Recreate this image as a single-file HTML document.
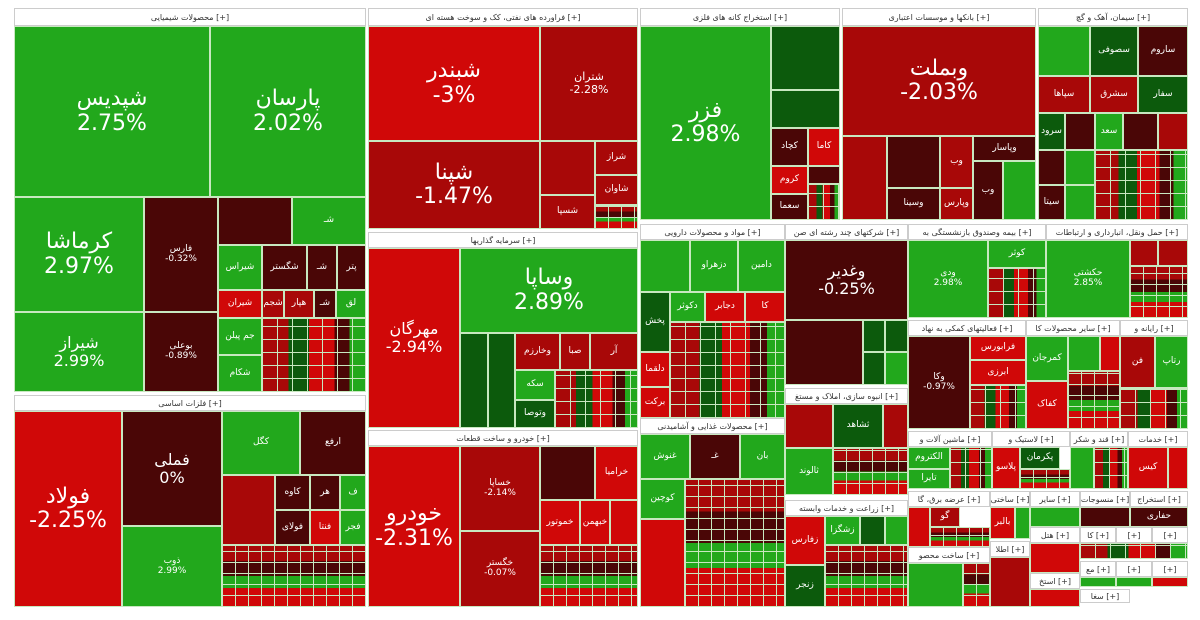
<!DOCTYPE html>
<html><head><meta charset="utf-8">
<style>
body{margin:0;width:1200px;height:620px;background:#fff;position:relative;overflow:hidden;font-family:"DejaVu Sans","Liberation Sans",sans-serif}
.t{position:absolute;box-sizing:border-box;border:1px solid #c8e8c0;display:flex;flex-direction:column;align-items:center;justify-content:center;color:#fff;line-height:1.1;overflow:hidden;text-align:center;font-size:9px}
.h{position:absolute;box-sizing:border-box;background:#fff;border:1px solid #ccc;font-size:8px;color:#333;display:flex;align-items:center;justify-content:center;white-space:nowrap;overflow:hidden}
.g{background:#22a81c}.dg{background:#0c5a0c}.r{background:#d00808}.mr{background:#a80808}.dr{background:#4a0606}
.b{font-size:22px}.m{font-size:16px}.s{font-size:11px}
.mx{position:absolute;box-sizing:border-box;border:1px solid #c8e8c0;background:
repeating-linear-gradient(90deg,transparent 0 14px,#c8e8c0 14px 15px),
repeating-linear-gradient(0deg,transparent 0 12px,#c8e8c0 12px 13px),
linear-gradient(90deg,#a80808 0 25%,#0c5a0c 25% 45%,#d00808 45% 70%,#4a0606 70% 85%,#22a81c 85%)}
.mx2{position:absolute;box-sizing:border-box;border:1px solid #c8e8c0;background:
repeating-linear-gradient(90deg,transparent 0 12px,#c8e8c0 12px 13px),
repeating-linear-gradient(0deg,transparent 0 10px,#c8e8c0 10px 11px),
linear-gradient(0deg,#d00808 0 30%,#22a81c 30% 50%,#4a0606 50% 75%,#a80808 75%)}
</style></head><body>
<!-- chemicals -->
<div class="h" style="left:14px;top:8px;width:352px;height:18px">محصولات شیمیایی [+]</div>
<div class="t g" style="left:14px;top:26px;width:196px;height:171px"><span class="b">شپدیس</span><span class="b">2.75%</span></div>
<div class="t g" style="left:210px;top:26px;width:156px;height:171px"><span class="b">پارسان</span><span class="b">2.02%</span></div>
<div class="t g" style="left:14px;top:197px;width:130px;height:115px"><span class="b">کرماشا</span><span class="b">2.97%</span></div>
<div class="t g" style="left:14px;top:312px;width:130px;height:80px"><span class="m">شیراز</span><span class="m">2.99%</span></div>
<div class="t dr" style="left:144px;top:197px;width:74px;height:115px"><span>فارس</span><span>-0.32%</span></div>
<div class="t dr" style="left:144px;top:312px;width:74px;height:80px"><span>بوعلی</span><span>-0.89%</span></div>
<div class="t dr" style="left:218px;top:197px;width:74px;height:48px"></div>
<div class="t g" style="left:292px;top:197px;width:74px;height:48px">شـ</div>
<div class="t g" style="left:218px;top:245px;width:44px;height:45px">شیراس</div>
<div class="t dr" style="left:262px;top:245px;width:45px;height:45px">شگستر</div>
<div class="t dr" style="left:307px;top:245px;width:30px;height:45px">شـ</div>
<div class="t dr" style="left:337px;top:245px;width:29px;height:45px">پتر</div>
<div class="t r" style="left:218px;top:290px;width:44px;height:28px">شیران</div>
<div class="t mr" style="left:262px;top:290px;width:22px;height:28px">شجم</div>
<div class="t mr" style="left:284px;top:290px;width:30px;height:28px">هپار</div>
<div class="t dr" style="left:314px;top:290px;width:22px;height:28px">شـ</div>
<div class="t g" style="left:336px;top:290px;width:30px;height:28px">لق</div>
<div class="t g" style="left:218px;top:318px;width:44px;height:37px">جم پیلن</div>
<div class="t g" style="left:218px;top:355px;width:44px;height:37px">شکام</div>
<div class="mx" style="left:262px;top:318px;width:104px;height:74px"></div>
<!-- metals -->
<div class="h" style="left:14px;top:395px;width:352px;height:16px">فلزات اساسی [+]</div>
<div class="t r" style="left:14px;top:411px;width:108px;height:196px"><span class="b">فولاد</span><span class="b">-2.25%</span></div>
<div class="t dr" style="left:122px;top:411px;width:100px;height:115px"><span class="m">فملی</span><span class="m">0%</span></div>
<div class="t g" style="left:122px;top:526px;width:100px;height:81px"><span>ذوب</span><span>2.99%</span></div>
<div class="t g" style="left:222px;top:411px;width:78px;height:64px">کگل</div>
<div class="t dr" style="left:300px;top:411px;width:66px;height:64px">ارفع</div>
<div class="t mr" style="left:222px;top:475px;width:53px;height:70px"></div>
<div class="t dr" style="left:275px;top:475px;width:35px;height:35px">کاوه</div>
<div class="t dr" style="left:310px;top:475px;width:30px;height:35px">هر</div>
<div class="t g" style="left:340px;top:475px;width:26px;height:35px">ف</div>
<div class="t dr" style="left:275px;top:510px;width:35px;height:35px">فولای</div>
<div class="t r" style="left:310px;top:510px;width:30px;height:35px">فنتا</div>
<div class="t g" style="left:340px;top:510px;width:26px;height:35px">فجر</div>
<div class="mx2" style="left:222px;top:545px;width:144px;height:62px"></div>
<!-- oil -->
<div class="h" style="left:368px;top:8px;width:270px;height:18px">فراورده های نفتی، کک و سوخت هسته ای [+]</div>
<div class="t r" style="left:368px;top:26px;width:172px;height:115px"><span class="b">شبندر</span><span class="b">-3%</span></div>
<div class="t mr" style="left:368px;top:141px;width:172px;height:88px"><span class="b">شپنا</span><span class="b">-1.47%</span></div>
<div class="t mr" style="left:540px;top:26px;width:98px;height:115px"><span class="s">شتران</span><span class="s">-2.28%</span></div>
<div class="t mr" style="left:540px;top:141px;width:55px;height:54px"></div>
<div class="t mr" style="left:595px;top:141px;width:43px;height:34px">شراز</div>
<div class="t mr" style="left:595px;top:175px;width:43px;height:30px">شاوان</div>
<div class="t mr" style="left:540px;top:195px;width:55px;height:34px">شسپا</div>
<div class="mx2" style="left:595px;top:205px;width:43px;height:24px"></div>
<!-- investment -->
<div class="h" style="left:368px;top:232px;width:270px;height:16px">سرمایه گذاریها [+]</div>
<div class="t r" style="left:368px;top:248px;width:92px;height:180px"><span class="m">مهرگان</span><span class="m">-2.94%</span></div>
<div class="t g" style="left:460px;top:248px;width:178px;height:85px"><span class="b">وساپا</span><span class="b">2.89%</span></div>
<div class="t dg" style="left:460px;top:333px;width:28px;height:95px"></div>
<div class="t dg" style="left:488px;top:333px;width:27px;height:95px"></div>
<div class="t mr" style="left:515px;top:333px;width:45px;height:37px">وخارزم</div>
<div class="t mr" style="left:560px;top:333px;width:30px;height:37px">صبا</div>
<div class="t mr" style="left:590px;top:333px;width:48px;height:37px">آر</div>
<div class="t g" style="left:515px;top:370px;width:40px;height:30px">سکه</div>
<div class="t dg" style="left:515px;top:400px;width:40px;height:28px">وتوصا</div>
<div class="mx" style="left:555px;top:370px;width:83px;height:58px"></div>
<!-- auto -->
<div class="h" style="left:368px;top:430px;width:270px;height:16px">خودرو و ساخت قطعات [+]</div>
<div class="t r" style="left:368px;top:446px;width:92px;height:161px"><span class="b">خودرو</span><span class="b">-2.31%</span></div>
<div class="t mr" style="left:460px;top:446px;width:80px;height:85px"><span>خساپا</span><span>-2.14%</span></div>
<div class="t mr" style="left:460px;top:531px;width:80px;height:76px"><span>خگستر</span><span>-0.07%</span></div>
<div class="t dr" style="left:540px;top:446px;width:55px;height:54px"></div>
<div class="t r" style="left:595px;top:446px;width:43px;height:54px">خراميا</div>
<div class="t r" style="left:540px;top:500px;width:40px;height:45px">خموتور</div>
<div class="t r" style="left:580px;top:500px;width:30px;height:45px">خبهمن</div>
<div class="t r" style="left:610px;top:500px;width:28px;height:45px"></div>
<div class="mx2" style="left:540px;top:545px;width:98px;height:62px"></div>
<!-- mining -->
<div class="h" style="left:640px;top:8px;width:200px;height:18px">استخراج کانه های فلزی [+]</div>
<div class="t g" style="left:640px;top:26px;width:131px;height:194px"><span class="b">فزر</span><span class="b">2.98%</span></div>
<div class="t dg" style="left:771px;top:26px;width:69px;height:64px"></div>
<div class="t dg" style="left:771px;top:90px;width:69px;height:38px" ></div>
<div class="t dr" style="left:771px;top:128px;width:37px;height:38px">کچاد</div>
<div class="t r" style="left:808px;top:128px;width:32px;height:38px">کاما</div>
<div class="t r" style="left:771px;top:166px;width:37px;height:28px">کروم</div>
<div class="t dr" style="left:808px;top:166px;width:32px;height:18px"></div>
<div class="t dr" style="left:771px;top:194px;width:37px;height:26px">سعما</div>
<div class="mx" style="left:808px;top:184px;width:32px;height:36px"></div>
<!-- pharma -->
<div class="h" style="left:640px;top:224px;width:145px;height:16px">مواد و محصولات دارویی [+]</div>
<div class="t g" style="left:640px;top:240px;width:50px;height:52px"></div>
<div class="t g" style="left:690px;top:240px;width:48px;height:52px">دزهراو</div>
<div class="t g" style="left:738px;top:240px;width:47px;height:52px">دامین</div>
<div class="t dg" style="left:640px;top:292px;width:30px;height:60px">پخش</div>
<div class="t g" style="left:670px;top:292px;width:35px;height:30px">دکوثر</div>
<div class="t r" style="left:705px;top:292px;width:40px;height:30px">دجابر</div>
<div class="t r" style="left:745px;top:292px;width:40px;height:30px">کا</div>
<div class="t r" style="left:640px;top:352px;width:30px;height:35px">دلقما</div>
<div class="t r" style="left:640px;top:387px;width:30px;height:31px">برکت</div>
<div class="mx" style="left:670px;top:322px;width:115px;height:96px"></div>
<!-- food -->
<div class="h" style="left:640px;top:418px;width:145px;height:16px">محصولات غذایی و آشامیدنی [+]</div>
<div class="t g" style="left:640px;top:434px;width:50px;height:45px">غنوش</div>
<div class="t dr" style="left:690px;top:434px;width:50px;height:45px">غـ</div>
<div class="t g" style="left:740px;top:434px;width:45px;height:45px">بان</div>
<div class="t g" style="left:640px;top:479px;width:45px;height:40px">کوچین</div>
<div class="t r" style="left:640px;top:519px;width:45px;height:88px"></div>
<div class="mx2" style="left:685px;top:479px;width:100px;height:128px"></div>
<!-- multi -->
<div class="h" style="left:785px;top:224px;width:123px;height:16px">شرکتهای چند رشته ای صن [+]</div>
<div class="t dr" style="left:785px;top:240px;width:123px;height:80px"><span class="m">وغدیر</span><span class="m">-0.25%</span></div>
<div class="t dr" style="left:785px;top:320px;width:78px;height:65px"></div>
<div class="t dg" style="left:863px;top:320px;width:22px;height:32px"></div>
<div class="t dg" style="left:885px;top:320px;width:23px;height:32px"></div>
<div class="t dg" style="left:863px;top:352px;width:22px;height:33px"></div>
<div class="t g" style="left:885px;top:352px;width:23px;height:33px"></div>
<div class="h" style="left:785px;top:388px;width:123px;height:16px">انبوه سازی، املاک و مستغ [+]</div>
<div class="t mr" style="left:785px;top:404px;width:48px;height:44px"></div>
<div class="t dg" style="left:833px;top:404px;width:50px;height:44px">ثشاهد</div>
<div class="t mr" style="left:883px;top:404px;width:25px;height:44px"></div>
<div class="t g" style="left:785px;top:448px;width:48px;height:47px">ثالوند</div>
<div class="mx2" style="left:833px;top:448px;width:75px;height:47px"></div>
<div class="h" style="left:785px;top:500px;width:123px;height:16px">زراعت و خدمات وابسته [+]</div>
<div class="t r" style="left:785px;top:516px;width:40px;height:49px">زفارس</div>
<div class="t g" style="left:825px;top:516px;width:35px;height:29px">زشگزا</div>
<div class="t dg" style="left:860px;top:516px;width:25px;height:29px"></div>
<div class="t g" style="left:885px;top:516px;width:23px;height:29px"></div>
<div class="t dg" style="left:785px;top:565px;width:40px;height:42px">زنجر</div>
<div class="mx2" style="left:825px;top:545px;width:83px;height:62px"></div>
<!-- banks -->
<div class="h" style="left:842px;top:8px;width:194px;height:18px">بانکها و موسسات اعتباری [+]</div>
<div class="t mr" style="left:842px;top:26px;width:194px;height:110px"><span class="b">وبملت</span><span class="b">-2.03%</span></div>
<div class="t mr" style="left:842px;top:136px;width:45px;height:84px"></div>
<div class="t dr" style="left:887px;top:136px;width:53px;height:52px"></div>
<div class="t mr" style="left:940px;top:136px;width:33px;height:52px">وب</div>
<div class="t dr" style="left:973px;top:136px;width:63px;height:25px">وپاسار</div>
<div class="t dr" style="left:887px;top:188px;width:53px;height:32px">وسینا</div>
<div class="t mr" style="left:940px;top:188px;width:33px;height:32px">وپارس</div>
<div class="t dr" style="left:973px;top:161px;width:30px;height:59px">وب</div>
<div class="t g" style="left:1003px;top:161px;width:33px;height:59px"></div>
<!-- cement -->
<div class="h" style="left:1038px;top:8px;width:150px;height:18px">سیمان، آهک و گچ [+]</div>
<div class="t g" style="left:1038px;top:26px;width:52px;height:50px"></div>
<div class="t dg" style="left:1090px;top:26px;width:48px;height:50px">سصوفی</div>
<div class="t dr" style="left:1138px;top:26px;width:50px;height:50px">ساروم</div>
<div class="t mr" style="left:1038px;top:76px;width:52px;height:37px">سپاها</div>
<div class="t mr" style="left:1090px;top:76px;width:48px;height:37px">سشرق</div>
<div class="t dg" style="left:1138px;top:76px;width:50px;height:37px">سفار</div>
<div class="t dg" style="left:1038px;top:113px;width:27px;height:37px">سرود</div>
<div class="t dr" style="left:1065px;top:113px;width:30px;height:37px"></div>
<div class="t g" style="left:1095px;top:113px;width:28px;height:37px">سعد</div>
<div class="t dr" style="left:1123px;top:113px;width:35px;height:37px"></div>
<div class="t mr" style="left:1158px;top:113px;width:30px;height:37px"></div>
<div class="t dr" style="left:1038px;top:150px;width:27px;height:35px"></div>
<div class="t g" style="left:1065px;top:150px;width:30px;height:35px"></div>
<div class="t dr" style="left:1038px;top:185px;width:27px;height:35px">سیتا</div>
<div class="t g" style="left:1065px;top:185px;width:30px;height:35px"></div>
<div class="mx" style="left:1095px;top:150px;width:93px;height:70px"></div>
<!-- insurance -->
<div class="h" style="left:908px;top:224px;width:138px;height:16px">بیمه وصندوق بازنشستگی به [+]</div>
<div class="t g" style="left:908px;top:240px;width:80px;height:78px"><span>ودی</span><span>2.98%</span></div>
<div class="t g" style="left:988px;top:240px;width:58px;height:28px">کوثر</div>
<div class="mx" style="left:988px;top:268px;width:58px;height:50px"></div>
<div class="h" style="left:1046px;top:224px;width:142px;height:16px">حمل ونقل، انبارداری و ارتباطات [+]</div>
<div class="t g" style="left:1046px;top:240px;width:84px;height:78px"><span>حکشتی</span><span>2.85%</span></div>
<div class="t mr" style="left:1130px;top:240px;width:28px;height:26px"></div>
<div class="t mr" style="left:1158px;top:240px;width:30px;height:26px"></div>
<div class="mx2" style="left:1130px;top:266px;width:58px;height:52px"></div>
<!-- row3 -->
<div class="h" style="left:908px;top:320px;width:118px;height:16px">فعالیتهای کمکی به نهاد [+]</div>
<div class="t dr" style="left:908px;top:336px;width:62px;height:93px"><span>وکا</span><span>-0.97%</span></div>
<div class="t r" style="left:970px;top:336px;width:56px;height:24px">فرابورس</div>
<div class="t r" style="left:970px;top:360px;width:56px;height:25px">ابرزی</div>
<div class="mx" style="left:970px;top:385px;width:56px;height:44px"></div>
<div class="h" style="left:1026px;top:320px;width:94px;height:16px">سایر محصولات کا [+]</div>
<div class="t g" style="left:1026px;top:336px;width:42px;height:45px">کمرجان</div>
<div class="t g" style="left:1068px;top:336px;width:32px;height:35px"></div>
<div class="t r" style="left:1100px;top:336px;width:20px;height:35px"></div>
<div class="t r" style="left:1026px;top:381px;width:42px;height:48px">کفاک</div>
<div class="mx2" style="left:1068px;top:371px;width:52px;height:58px"></div>
<div class="h" style="left:1120px;top:320px;width:68px;height:16px">رایانه و [+]</div>
<div class="t mr" style="left:1120px;top:336px;width:35px;height:52px">فن</div>
<div class="t g" style="left:1155px;top:336px;width:33px;height:52px">رتاپ</div>
<div class="mx" style="left:1120px;top:388px;width:68px;height:41px"></div>
<!-- row4 -->
<div class="h" style="left:908px;top:431px;width:84px;height:16px">ماشین آلات و [+]</div>
<div class="t g" style="left:908px;top:447px;width:42px;height:22px">الکتروم</div>
<div class="t g" style="left:908px;top:469px;width:42px;height:20px">تایرا</div>
<div class="mx" style="left:950px;top:447px;width:42px;height:42px"></div>
<div class="h" style="left:992px;top:431px;width:78px;height:16px">لاستیک و [+]</div>
<div class="t r" style="left:992px;top:447px;width:28px;height:42px">پلاسو</div>
<div class="t dg" style="left:1020px;top:447px;width:40px;height:22px">پکرمان</div>
<div class="mx2" style="left:1020px;top:469px;width:50px;height:20px"></div>
<div class="h" style="left:1070px;top:431px;width:58px;height:16px">قند و شکر [+]</div>
<div class="t g" style="left:1070px;top:447px;width:24px;height:42px"></div>
<div class="mx" style="left:1094px;top:447px;width:34px;height:42px"></div>
<div class="h" style="left:1128px;top:431px;width:60px;height:16px">خدمات [+]</div>
<div class="t r" style="left:1128px;top:447px;width:40px;height:42px">کیس</div>
<div class="t r" style="left:1168px;top:447px;width:20px;height:42px"></div>
<!-- row5 -->
<div class="h" style="left:908px;top:491px;width:82px;height:16px">عرضه برق، گا [+]</div>
<div class="t r" style="left:908px;top:507px;width:22px;height:40px"></div>
<div class="t mr" style="left:930px;top:507px;width:30px;height:20px">گو</div>
<div class="mx2" style="left:930px;top:527px;width:60px;height:20px"></div>
<div class="h" style="left:990px;top:491px;width:40px;height:16px">ساختی [+]</div>
<div class="t r" style="left:990px;top:507px;width:25px;height:32px">بالبر</div>
<div class="t g" style="left:1015px;top:507px;width:15px;height:32px"></div>
<div class="h" style="left:1030px;top:491px;width:50px;height:16px">سایر [+]</div>
<div class="t g" style="left:1030px;top:507px;width:50px;height:20px"></div>
<div class="h" style="left:1080px;top:491px;width:50px;height:16px">منسوجات [+]</div>
<div class="t dr" style="left:1080px;top:507px;width:50px;height:20px"></div>
<div class="h" style="left:1130px;top:491px;width:58px;height:16px">استخراج [+]</div>
<div class="t dr" style="left:1130px;top:507px;width:58px;height:20px">حفاری</div>
<div class="h" style="left:908px;top:547px;width:82px;height:16px">ساخت محصو [+]</div>
<div class="t g" style="left:908px;top:563px;width:55px;height:44px"></div>
<div class="mx2" style="left:963px;top:563px;width:27px;height:44px"></div>
<div class="h" style="left:990px;top:541px;width:40px;height:16px">اطلا [+]</div>
<div class="t mr" style="left:990px;top:557px;width:40px;height:50px"></div>
<div class="h" style="left:1030px;top:527px;width:50px;height:16px">هتل [+]</div>
<div class="t r" style="left:1030px;top:543px;width:50px;height:30px"></div>
<div class="h" style="left:1030px;top:573px;width:50px;height:16px">استخ [+]</div>
<div class="t r" style="left:1030px;top:589px;width:50px;height:18px"></div>
<div class="h" style="left:1080px;top:527px;width:36px;height:16px">کا [+]</div>
<div class="h" style="left:1116px;top:527px;width:36px;height:16px">[+]</div>
<div class="h" style="left:1152px;top:527px;width:36px;height:16px">[+]</div>
<div class="mx" style="left:1080px;top:543px;width:108px;height:16px"></div>
<div class="h" style="left:1080px;top:561px;width:36px;height:16px">مع [+]</div>
<div class="h" style="left:1116px;top:561px;width:36px;height:16px">[+]</div>
<div class="h" style="left:1152px;top:561px;width:36px;height:16px">[+]</div>
<div class="t g" style="left:1080px;top:577px;width:36px;height:10px"></div>
<div class="t g" style="left:1116px;top:577px;width:36px;height:10px"></div>
<div class="t r" style="left:1152px;top:577px;width:36px;height:10px"></div>
<div class="h" style="left:1080px;top:589px;width:50px;height:14px">سغا [+]</div>
</body></html>
